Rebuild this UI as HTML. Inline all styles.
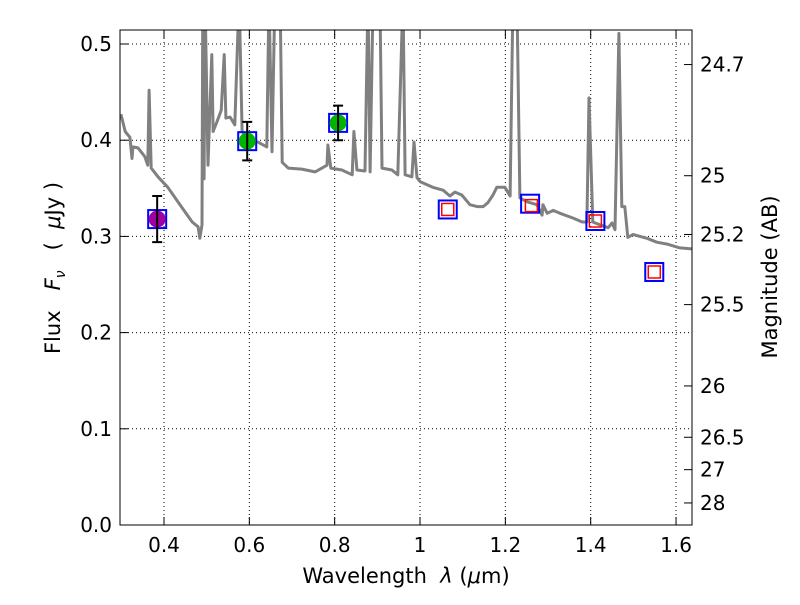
<!DOCTYPE html>
<html><head><meta charset="utf-8"><style>
body{margin:0;background:#fff;width:800px;height:600px;overflow:hidden}
text{font-family:"DejaVu Sans","Liberation Sans",sans-serif;fill:#000;white-space:pre}
</style></head><body>
<svg id="chart" width="800" height="600">
<defs><clipPath id="clip"><rect x="120" y="30" width="572" height="495"/></clipPath></defs>
<rect x="0" y="0" width="800" height="600" fill="#fff"/>
<g id="grid"></g>
<g id="marks" clip-path="url(#clip)"></g>
<rect x="120" y="30" width="572" height="495" fill="none" stroke="#000" stroke-width="1"/>
<g id="axes"></g>
<text x="406" y="583" text-anchor="middle" font-size="21" xml:space="preserve">Wavelength  <tspan font-style="italic">λ</tspan> (<tspan font-style="italic">μ</tspan>m)</text>
<text transform="translate(60,268) rotate(-90)" text-anchor="middle" font-size="21" xml:space="preserve">Flux   <tspan font-style="italic">F</tspan><tspan font-style="italic" font-size="14" dy="5">ν</tspan><tspan dy="-5">   (  </tspan><tspan font-style="italic">μ</tspan>Jy )</text>
<text transform="translate(777,277) rotate(-90)" text-anchor="middle" font-size="21">Magnitude (AB)</text>
</svg>
<script>
const wavelength=[0.299,0.309,0.320,0.325,0.327,0.339,0.355,0.362,0.365,0.370,0.386,0.409,0.442,0.466,0.480,0.484,0.489,0.491,0.494,0.496,0.503,0.512,0.515,0.524,0.534,0.541,0.545,0.555,0.566,0.576,0.583,0.597,0.620,0.641,0.646,0.653,0.660,0.672,0.677,0.691,0.723,0.754,0.782,0.784,0.791,0.817,0.841,0.845,0.852,0.871,0.878,0.883,0.890,0.899,0.906,0.911,0.934,0.948,0.960,0.965,0.981,0.986,0.993,1.000,1.030,1.054,1.070,1.082,1.098,1.117,1.134,1.148,1.159,1.171,1.180,1.199,1.211,1.218,1.227,1.234,1.251,1.274,1.286,1.288,1.298,1.312,1.328,1.359,1.380,1.391,1.396,1.405,1.422,1.441,1.450,1.457,1.466,1.473,1.480,1.487,1.499,1.532,1.555,1.579,1.609,1.637];
const flux=[0.427,0.409,0.403,0.381,0.393,0.392,0.383,0.374,0.452,0.371,0.362,0.351,0.330,0.315,0.310,0.298,0.312,0.55,0.36,0.55,0.374,0.489,0.409,0.419,0.431,0.489,0.423,0.424,0.416,0.55,0.409,0.402,0.398,0.393,0.55,0.388,0.55,0.55,0.377,0.371,0.370,0.367,0.374,0.395,0.371,0.369,0.364,0.409,0.369,0.368,0.55,0.367,0.55,0.55,0.55,0.371,0.369,0.364,0.55,0.364,0.362,0.398,0.361,0.357,0.351,0.348,0.342,0.346,0.343,0.333,0.331,0.331,0.335,0.343,0.351,0.351,0.342,0.55,0.55,0.340,0.336,0.333,0.322,0.333,0.324,0.327,0.324,0.319,0.315,0.315,0.444,0.315,0.312,0.309,0.314,0.307,0.511,0.331,0.331,0.299,0.302,0.298,0.294,0.292,0.288,0.287];
const obsWave=[0.384,0.595,0.808,1.065,1.258,1.411,1.549];
const obsFlux=[0.318,0.399,0.418,0.328,0.334,0.316,0.263];
const obsErr=[0.024,0.020,0.018,0,0,0,0];
const obsColor=['#a000a0','#00b400','#00b400',null,null,null,null];
const modelWave=[1.065,1.261,1.411,1.549];
const modelFlux=[0.328,0.332,0.316,0.263];
const xTicks=[0.4,0.6,0.8,1.0,1.2,1.4,1.6];
const xTickLabels=['0.4','0.6','0.8','1','1.2','1.4','1.6'];
const yTicks=[0,0.1,0.2,0.3,0.4,0.5];
const yTickLabels=['0.0','0.1','0.2','0.3','0.4','0.5'];
const magTicks=[24.7,25,25.2,25.5,26,26.5,27,28];
const magTickLabels=['24.7','25','25.2','25.5','26','26.5','27','28'];

const NS='http://www.w3.org/2000/svg';
const X0=120,X1=692,Y0=525,Y1=30;
function sx(v){return 164+(v-0.4)*426.7;}
function sy(v){return 525-v*962;}
function mk(tag,attrs,parent){const e=document.createElementNS(NS,tag);for(const k in attrs)e.setAttribute(k,attrs[k]);parent.appendChild(e);return e;}
const grid=document.getElementById('grid'),marks=document.getElementById('marks'),axes=document.getElementById('axes');

xTicks.forEach((t,i)=>{const x=sx(t);
 let g=mk('line',{x1:x,x2:x,y1:Y1,y2:Y0,stroke:'#000','stroke-dasharray':'1,3','stroke-width':1},grid);
 
 let a=mk('line',{x1:x,x2:x,y1:Y0,y2:Y0-8,stroke:'#000'},axes);
 
 let b=mk('line',{x1:x,x2:x,y1:Y1,y2:Y1+8,stroke:'#000'},axes);
 
 let tx=mk('text',{x:x,y:552,'text-anchor':'middle','font-size':20},axes);tx.textContent=xTickLabels[i];
 
});
yTicks.forEach((t,i)=>{const y=sy(t);
 let g=mk('line',{x1:X0,x2:X1,y1:y,y2:y,stroke:'#000','stroke-dasharray':'1,3','stroke-width':1},grid);
 
 let a=mk('line',{x1:X0,x2:X0+8,y1:y,y2:y,stroke:'#000'},axes);
 
 let tx=mk('text',{x:112,y:y+7,'text-anchor':'end','font-size':20},axes);tx.textContent=yTickLabels[i];
 
});
magTicks.forEach((m,i)=>{const y=sy(Math.pow(10,(23.9-m)/2.5));
 let a=mk('line',{x1:X1,x2:X1-8,y1:y,y2:y,stroke:'#000'},axes);
 
 let tx=mk('text',{x:700,y:y+7,'text-anchor':'start','font-size':20},axes);tx.textContent=magTickLabels[i];
 
});
let d=wavelength.map((w,i)=>(i?'L':'M')+sx(w).toFixed(1)+','+sy(flux[i]).toFixed(1)).join('');
let sp=mk('path',{d:d,fill:'none',stroke:'#808080','stroke-width':3,'stroke-linejoin':'round'},marks);

obsWave.forEach((w,i)=>{const x=sx(w),y=sy(obsFlux[i]);
 let s=mk('rect',{x:x-9,y:y-9,width:18,height:18,fill:'none',stroke:'#0000ff','stroke-width':2},marks);
 
 if(obsColor[i]){
  let c=mk('circle',{cx:x,cy:y,r:8.5,fill:obsColor[i]},marks);
  
 }
 if(obsErr[i]>0){const ya=sy(obsFlux[i]+obsErr[i]),yb=sy(obsFlux[i]-obsErr[i]);
  let e=mk('path',{d:`M${x},${ya}L${x},${yb}M${x-5},${ya}L${x+5},${ya}M${x-5},${yb}L${x+5},${yb}`,stroke:'#000','stroke-width':2,fill:'none'},marks);
  
 }
});
modelWave.forEach((w,i)=>{const x=sx(w),y=sy(modelFlux[i]);
 let r=mk('rect',{x:x-6,y:y-6,width:12,height:12,fill:'none',stroke:'#ff0000','stroke-width':1.5},marks);
 
});
</script>
</body></html>
